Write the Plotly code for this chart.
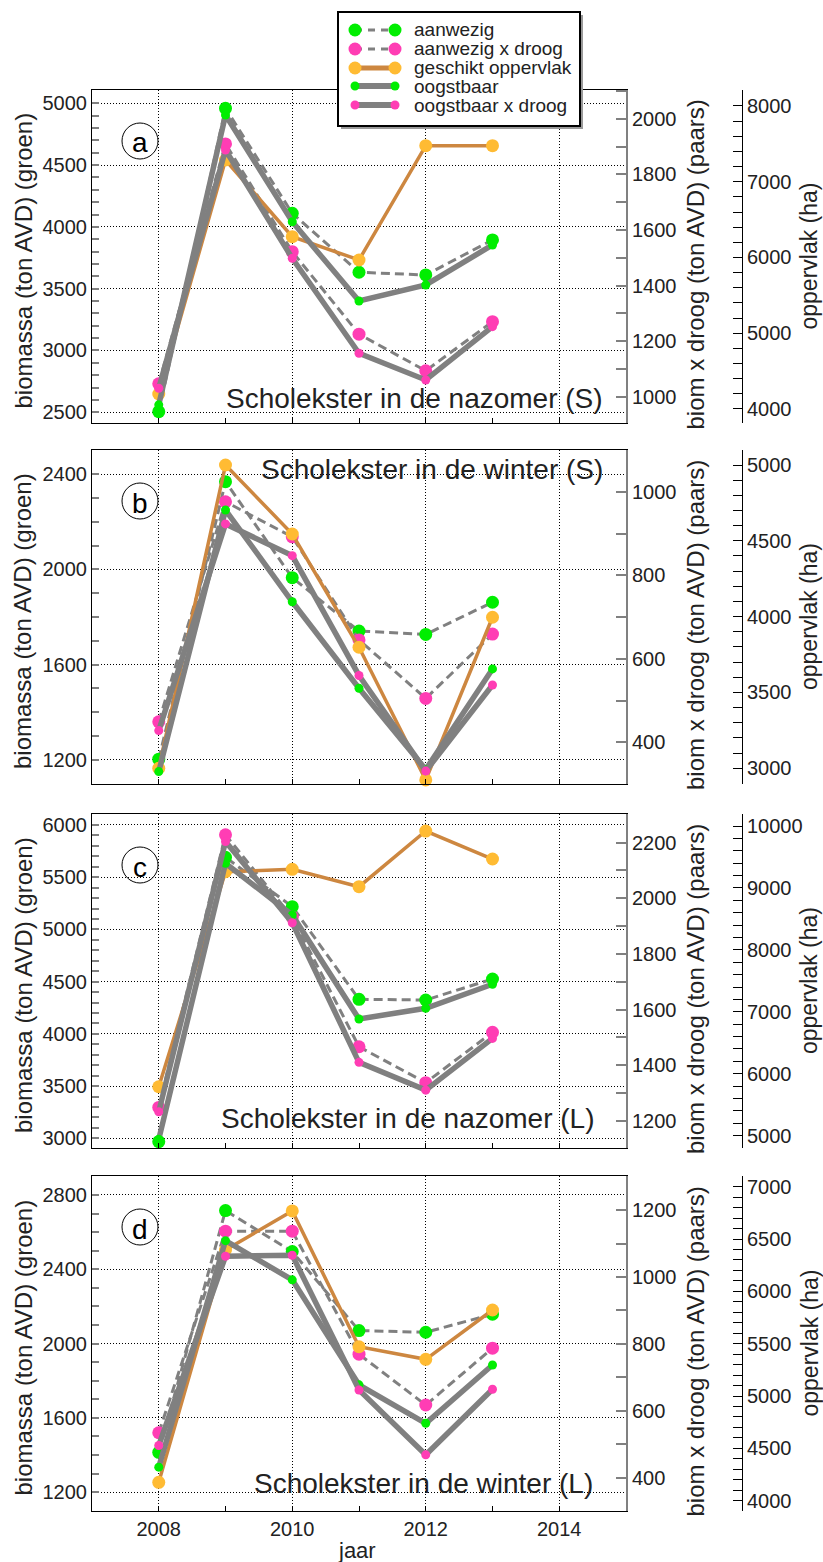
import plotly.graph_objects as go

W, H = 823, 1562
FONT = "Liberation Sans, Arial, sans-serif"

years = [2008, 2009, 2010, 2011, 2012, 2013]

# Panel a: Scholekster in de nazomer (S)
a_aanwezig = [2505, 4960, 4110, 3633, 3611, 3895]
a_aanwezig_droog = [1046, 1910, 1522, 1225, 1093, 1270]
a_oppervlak = [4198, 7287, 6275, 5967, 7476, 7476]
a_oogstbaar = [2560, 4905, 4042, 3400, 3530, 3854]
a_oogstbaar_droog = [1030, 1888, 1498, 1156, 1060, 1252]

# Panel b: Scholekster in de winter (S)
b_aanwezig = [1203, 2368, 1965, 1741, 1727, 1862]
b_aanwezig_droog = [449, 976, 892, 645, 505, 659]
b_oppervlak = [3000, 5000, 4545, 3798, 2923, 3996]
b_oogstbaar = [1151, 2249, 1864, 1501, 1160, 1582]
b_oogstbaar_droog = [428, 923, 847, 560, 331, 537]

# Panel c: Scholekster in de nazomer (L)
c_aanwezig = [2968, 5691, 5218, 4331, 4324, 4525]
c_aanwezig_droog = [1248, 2228, 1932, 1466, 1337, 1518]
c_oppervlak = [5790, 9262, 9300, 9020, 9919, 9467]
c_oogstbaar = [2990, 5633, 5138, 4142, 4245, 4475]
c_oogstbaar_droog = [1232, 2204, 1912, 1410, 1310, 1496]

# Panel d: Scholekster in de winter (L)
d_aanwezig = [1415, 2716, 2495, 2070, 2061, 2158]
d_aanwezig_droog = [534, 1137, 1137, 769, 617, 787]
d_oppervlak = [4176, 6395, 6768, 5471, 5351, 5822]
d_oogstbaar = [1335, 2554, 2343, 1778, 1571, 1885]
d_oogstbaar_droog = [496, 1062, 1065, 662, 468, 664]

panel_letters = ["a", "b", "c", "d"]
panel_titles = ["Scholekster in de nazomer (S)", "Scholekster in de winter (S)",
                "Scholekster in de nazomer (L)", "Scholekster in de winter (L)"]

series_names = ["aanwezig", "aanwezig x droog", "geschikt oppervlak",
                "oogstbaar", "oogstbaar x droog"]

panels = [
    [a_aanwezig, a_aanwezig_droog, a_oppervlak, a_oogstbaar, a_oogstbaar_droog],
    [b_aanwezig, b_aanwezig_droog, b_oppervlak, b_oogstbaar, b_oogstbaar_droog],
    [c_aanwezig, c_aanwezig_droog, c_oppervlak, c_oogstbaar, c_oogstbaar_droog],
    [d_aanwezig, d_aanwezig_droog, d_oppervlak, d_oogstbaar, d_oogstbaar_droog],
]

# axis scales per panel: (range, dtick, minor dtick)
groen_axes = [([2413, 5108], 500, 100), ([1099, 2501], 400, 100),
              ([2907, 6105], 500, 100), ([1099, 2902], 400, 100)]
paars_axes = [([905, 2104], 200, 100), ([300, 1100], 200, 100),
              ([1102, 2303], 200, 100), ([300, 1302], 200, 100)]
ha_axes = [([3815, 8211], 1000, 200), ([2896, 5099], 500, 100),
           ([4801, 10194], 1000, 200), ([3902, 7102], 500, 100)]

# vertical pixel extent of each panel
panel_px = [(90, 423), (450, 784), (814, 1148), (1176, 1511)]
X_LEFT, X_RIGHT, X_HA = 92, 626, 742

GRAY = "#808080"
GREEN = "#00ee00"
PINK = "#ff3db4"
ORANGE_LINE = "#cd8740"
ORANGE_DOT = "#ffbb33"
TXT = "#222222"

# line style per series: (color, width, dash, marker color, marker size)
styles = [
    (GRAY, 3, "9px,5px", GREEN, 13),
    (GRAY, 3, "9px,5px", PINK, 13),
    (ORANGE_LINE, 3.5, "solid", ORANGE_DOT, 13),
    (GRAY, 5.5, "solid", GREEN, 9),
    (GRAY, 5.5, "solid", PINK, 9),
]


def px(x):
    return x / W


def py(y):
    return 1 - y / H


fig = go.Figure()
layout = dict(
    width=W, height=H, margin=dict(l=0, r=0, t=0, b=0),
    paper_bgcolor="white", plot_bgcolor="white", showlegend=False,
    font=dict(family=FONT, color=TXT, size=20),
)
annotations = []
shapes = []

for p in range(4):
    xname = "x" if p == 0 else f"x{p + 1}"
    xkey = "xaxis" if p == 0 else f"xaxis{p + 1}"
    base = p * 5 + 1
    yids = [base + k for k in range(5)]
    ynames = ["y" if i == 1 else f"y{i}" for i in yids]
    ykeys = ["yaxis" if i == 1 else f"yaxis{i}" for i in yids]
    top, bot = panel_px[p]
    ydom = [py(bot), py(top)]

    layout[xkey] = dict(
        domain=[px(X_LEFT), px(X_RIGHT)], anchor=ynames[0], range=[2007, 2015],
        tickmode="linear", tick0=2008, dtick=2,
        ticks="inside", ticklen=5, tickcolor="black",
        minor=dict(dtick=1, ticks="inside", ticklen=5, tickcolor="black", showgrid=False),
        showgrid=True, gridcolor="black", griddash="1px,2px", gridwidth=1,
        showline=True, linecolor="black", linewidth=1, mirror=True,
        zeroline=False, showticklabels=(p == 3),
        tickfont=dict(size=20, color=TXT), fixedrange=True,
    )

    g_rng, g_dt, g_min = groen_axes[p]
    p_rng, p_dt, p_min = paars_axes[p]
    h_rng, h_dt, h_min = ha_axes[p]

    # left axis: biomassa (groen)
    layout[ykeys[0]] = dict(
        domain=ydom, anchor=xname, side="left", range=g_rng,
        tickmode="linear", tick0=0, dtick=g_dt, tickformat="d",
        ticks="inside", ticklen=7, tickcolor=GRAY, tickwidth=1.5,
        minor=dict(dtick=g_min, ticks="inside", ticklen=7, tickcolor=GRAY,
                   tickwidth=1.5, showgrid=False),
        showgrid=True, gridcolor="black", griddash="1px,2px", gridwidth=1,
        showline=True, linecolor="black", linewidth=1,
        zeroline=False, tickfont=dict(size=20, color=TXT), fixedrange=True,
    )
    # right axis: biom x droog (paars)
    layout[ykeys[1]] = dict(
        overlaying=ynames[0], anchor=xname, side="right", range=p_rng,
        tickmode="linear", tick0=0, dtick=p_dt, tickformat="d",
        ticks="inside", ticklen=10, tickcolor=GRAY, tickwidth=1.5,
        minor=dict(dtick=p_min, ticks="inside", ticklen=10, tickcolor=GRAY,
                   tickwidth=1.5, showgrid=False),
        showgrid=False, showline=True, linecolor=GRAY, linewidth=2,
        zeroline=False, tickfont=dict(size=20, color=TXT), fixedrange=True,
    )
    # far right axis: oppervlak (ha)
    layout[ykeys[2]] = dict(
        overlaying=ynames[0], anchor="free", position=px(X_HA), side="right",
        range=h_rng, tickmode="linear", tick0=0, dtick=h_dt, tickformat="d",
        ticks="inside", ticklen=9, tickcolor="black", tickwidth=1,
        minor=dict(dtick=h_min, ticks="inside", ticklen=9, tickcolor="black",
                   tickwidth=1, showgrid=False),
        showgrid=False, showline=True, linecolor="black", linewidth=1,
        zeroline=False, tickfont=dict(size=20, color=TXT), fixedrange=True,
    )
    # hidden twins so the solid series are stacked above the others
    layout[ykeys[3]] = dict(overlaying=ynames[0], anchor=xname, range=g_rng,
                            visible=False, fixedrange=True)
    layout[ykeys[4]] = dict(overlaying=ynames[0], anchor=xname, range=p_rng,
                            visible=False, fixedrange=True)

    for k in range(5):
        color, width, dash, mcolor, msize = styles[k]
        fig.add_trace(go.Scatter(
            x=years, y=panels[p][k], xaxis=xname, yaxis=ynames[k],
            mode="lines+markers", name=series_names[k],
            line=dict(color=color, width=width, dash=dash),
            marker=dict(color=mcolor, size=msize, line=dict(width=0)),
            cliponaxis=False, showlegend=False,
        ))

    mid = (top + bot) / 2
    annotations += [
        dict(text="biomassa (ton AVD) (groen)", x=px(23), y=py(mid + 4),
             xref="paper", yref="paper", textangle=-90, showarrow=False,
             xanchor="center", yanchor="middle", font=dict(size=24, color=TXT)),
        dict(text="biom x droog (ton AVD) (paars)", x=px(695), y=py(mid + 8),
             xref="paper", yref="paper", textangle=-90, showarrow=False,
             xanchor="center", yanchor="middle", font=dict(size=24, color=TXT)),
        dict(text="oppervlak (ha)", x=px(809), y=py(mid),
             xref="paper", yref="paper", textangle=-90, showarrow=False,
             xanchor="center", yanchor="middle", font=dict(size=23, color=TXT)),
    ]

    # panel letter in a circle
    cx, cy, r = 140, top + 51, 18
    shapes.append(dict(type="circle", xref="paper", yref="paper",
                       x0=px(cx - r), x1=px(cx + r), y0=py(cy + r), y1=py(cy - r),
                       line=dict(color="black", width=1), fillcolor="rgba(0,0,0,0)"))
    annotations.append(dict(text=panel_letters[p], x=px(cx), y=py(cy + 2),
                            xref="paper", yref="paper", showarrow=False,
                            xanchor="center", yanchor="middle",
                            font=dict(size=28, color="black")))

# panel titles inside the plots
title_pos = [(605, 398), (605, 470), (597, 1118), (595, 1483)]
for p in range(4):
    tx, ty = title_pos[p]
    annotations.append(dict(text=panel_titles[p], x=px(tx), y=py(ty),
                            xref="paper", yref="paper", showarrow=False,
                            xanchor="right", yanchor="middle",
                            font=dict(size=28, color=TXT)))

annotations.append(dict(text="jaar", x=px(357), y=py(1550), xref="paper",
                        yref="paper", showarrow=False, xanchor="center",
                        yanchor="middle", font=dict(size=22, color=TXT)))

# legend box with drop shadow
shapes.append(dict(type="rect", xref="paper", yref="paper",
                   x0=px(341), x1=px(583), y0=py(129), y1=py(15),
                   fillcolor="#9a9a9a", line=dict(width=0)))
shapes.append(dict(type="rect", xref="paper", yref="paper",
                   x0=px(338), x1=px(580), y0=py(126), y1=py(12),
                   fillcolor="white", line=dict(color="black", width=2)))

leg_rows = [30, 49, 68, 86, 105]
leg_lw = [3, 3, 5, 6, 6]
leg_dash = ["7px,6px", "7px,6px", "solid", "solid", "solid"]
for k in range(5):
    color, width, dash, mcolor, msize = styles[k]
    yy = leg_rows[k]
    shapes.append(dict(type="line", xref="paper", yref="paper",
                       x0=px(355), x1=px(395), y0=py(yy), y1=py(yy),
                       line=dict(color=color, width=leg_lw[k], dash=leg_dash[k])))
    rr = msize / 2
    for mx in (355, 395):
        shapes.append(dict(type="circle", xref="paper", yref="paper",
                           x0=px(mx - rr), x1=px(mx + rr),
                           y0=py(yy + rr), y1=py(yy - rr),
                           fillcolor=mcolor, line=dict(width=0)))
    annotations.append(dict(text=series_names[k], x=px(412), y=py(yy),
                            xref="paper", yref="paper", showarrow=False,
                            xanchor="left", yanchor="middle",
                            font=dict(size=19, color=TXT)))

layout["annotations"] = annotations
layout["shapes"] = shapes
fig.update_layout(**layout)
fig.write_html("out.html")
